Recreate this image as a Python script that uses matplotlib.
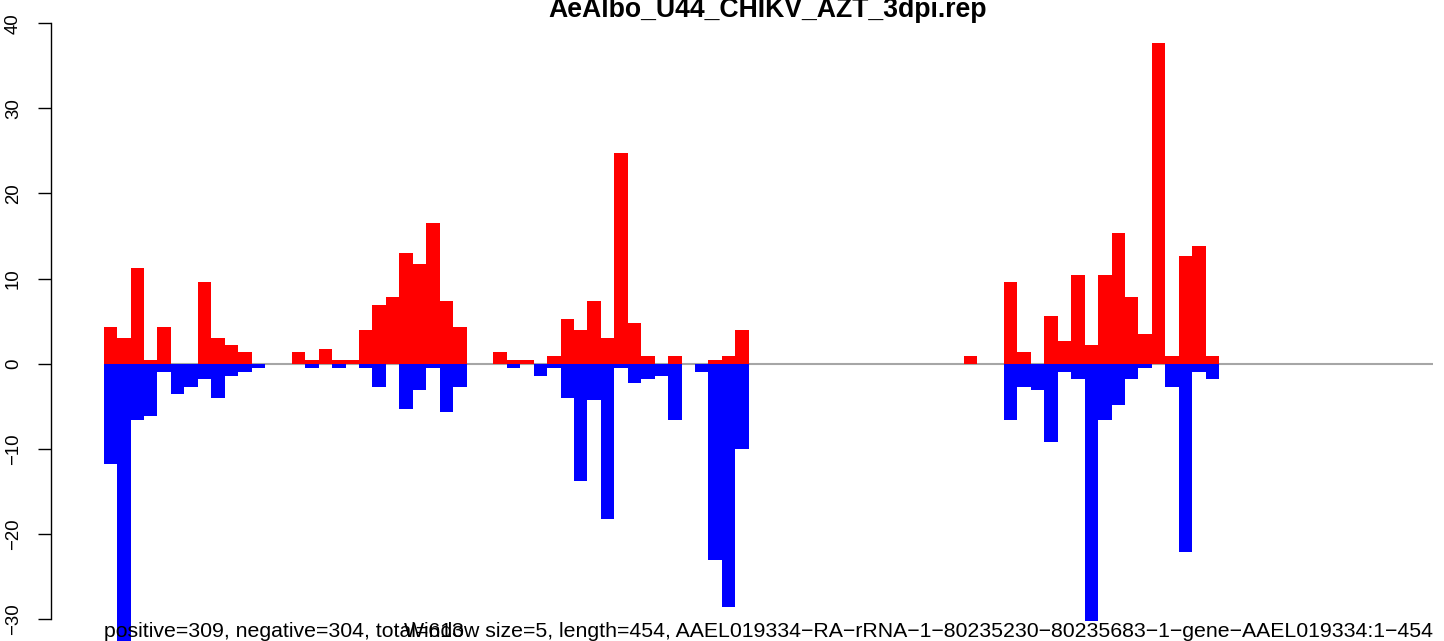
import numpy as np
import matplotlib
matplotlib.use("Agg")
from matplotlib import pyplot as plt

plt.rcParams['font.family'] = ['Liberation Sans', 'DejaVu Sans']

# per-window counts (window size 5), red = positive strand, blue = negative strand
pos_counts = [4.3, 3.0, 11.2, 0.4, 4.3, 0, 0, 9.6, 3.0, 2.2,
              1.35, 0, 0, 0, 1.4, 0.45, 1.7, 0.45, 0.45, 3.95,
              6.9, 7.85, 13.0, 11.7, 16.5, 7.35, 4.3, 0, 0, 1.4,
              0.45, 0.45, 0, 0.93, 5.27, 3.98, 7.38, 3.04, 24.8, 4.83,
              0.93, 0, 0.93, 0, 0, 0.45, 0.93, 3.98, 0, 0,
              0, 0, 0, 0, 0, 0, 0, 0, 0, 0,
              0, 0, 0, 0, 0.93, 0, 0, 9.6, 1.4, 0,
              5.64, 2.65, 10.4, 2.19, 10.4, 15.3, 7.87, 3.49, 37.7, 0.93,
              12.6, 13.8, 0.93]
neg_counts = [-11.8, -33.0, -6.6, -6.2, -1.0, -3.5, -2.7, -1.8, -4.0, -1.5,
              -1.0, -0.5, 0, 0, 0, -0.5, 0, -0.5, 0, -0.5,
              -2.7, 0, -5.3, -3.1, -0.5, -5.7, -2.7, 0, 0, 0,
              -0.49, 0, -1.42, -0.49, -3.98, -13.8, -4.3, -18.2, -0.49, -2.23,
              -1.74, -1.42, -6.57, 0, -0.93, -23.0, -28.6, -10.0, 0, 0,
              0, 0, 0, 0, 0, 0, 0, 0, 0, 0,
              0, 0, 0, 0, 0, 0, 0, -6.6, -2.75, -3.07,
              -9.2, -0.93, -1.77, -30.2, -6.6, -4.8, -1.77, -0.5, 0, -2.75,
              -22.1, -0.93, -1.77]
n_windows = 98.9
y_ticks = [-30, -20, -10, 0, 10, 20, 30, 40]

title = "AeAlbo_U44_CHIKV_AZT_3dpi.rep"
stats_text = "positive=309, negative=304, total=613"
info_text = ("Window size=5, length=454, "
             "AAEL019334\u2212RA\u2212rRNA\u22121\u221280235230\u221280235683"
             "\u22121\u2212gene\u2212AAEL019334:1\u2212454")

W, H = 1444, 641
fig = plt.figure(figsize=(W / 100., H / 100.), dpi=100)
ax = fig.add_axes([103.7 / W, 0, (1432.7 - 103.7) / W, 1])

x = np.arange(len(pos_counts))
ax.axhline(0, color='#A6A6A6', lw=1.5, zorder=1)
ax.bar(x, pos_counts, width=1, align='edge', color='#FF0000', lw=0, zorder=2)
ax.bar(x, neg_counts, width=1, align='edge', color='#0000FF', lw=0, zorder=2)

ax.set_xlim(0, n_windows)
ax.set_ylim(-32.57, 42.72)
ax.set_xticks([])
for s in ['top', 'right', 'bottom']:
    ax.spines[s].set_visible(False)
ax.spines['left'].set_position(('outward', 53 * 0.72))
ax.spines['left'].set_bounds(-30, 40)
ax.spines['left'].set_linewidth(1.0)
ax.set_yticks(y_ticks)
ax.set_yticklabels([str(t).replace('-', '\u2212') for t in y_ticks],
                   rotation=90, va='center', fontsize=13.4)
ax.tick_params(axis='y', length=9.6, width=1.0, pad=11)
ax.patch.set_visible(False)

fig.text(768 / W, 1 - 16.7 / H, title, ha='center', va='baseline',
         fontsize=19.2, fontweight='bold')
fig.text(104 / W, 1 - 637 / H, stats_text, ha='left', va='baseline',
         fontsize=15.3)
fig.text(1432.7 / W, 1 - 637 / H, info_text, ha='right', va='baseline',
         fontsize=15.3)

fig.savefig("out.png", dpi=100)
